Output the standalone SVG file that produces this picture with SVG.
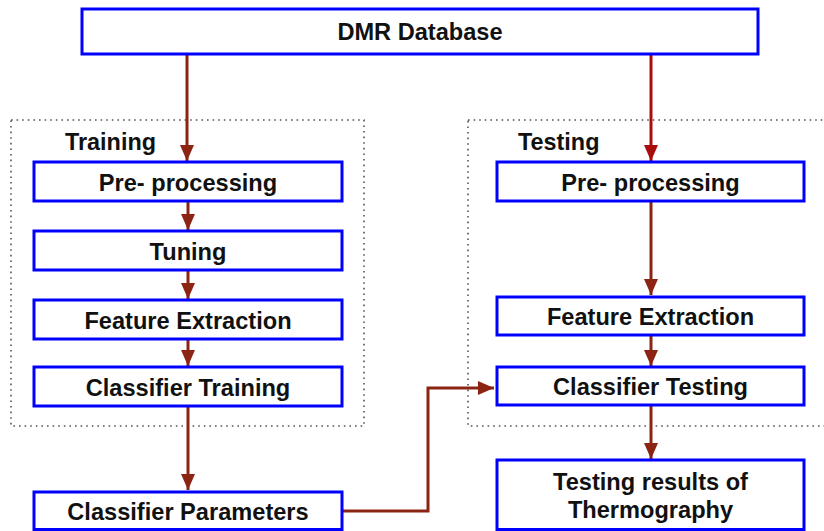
<svg xmlns="http://www.w3.org/2000/svg" width="824" height="531" viewBox="0 0 824 531">
  <style>
    .box { fill: #ffffff; stroke: #0000ff; stroke-width: 3; }
    .lbl { font-family: "Liberation Sans", Arial, sans-serif; font-weight: bold; font-size: 23.6px; fill: #111111; text-anchor: middle; }
    .title { font-family: "Liberation Sans", Arial, sans-serif; font-weight: bold; font-size: 23.4px; fill: #111111; }
    .group { fill: none; stroke: #555555; stroke-width: 1.6; stroke-dasharray: 1.6 4; }
    .flow { fill: none; stroke: #8b2412; stroke-width: 3; }
    .flow-red { fill: none; stroke: #a80c0c; stroke-width: 3; }
  </style>
  <defs>
    <marker id="head" viewBox="0 0 16 14" refX="16" refY="7" markerWidth="16" markerHeight="14" markerUnits="userSpaceOnUse" orient="auto">
      <path d="M0,0 L16,7 L0,14 Z" fill="#8b2412"/>
    </marker>
    <marker id="head-red" viewBox="0 0 16 14" refX="16" refY="7" markerWidth="16" markerHeight="14" markerUnits="userSpaceOnUse" orient="auto">
      <path d="M0,0 L16,7 L0,14 Z" fill="#a80c0c"/>
    </marker>
  </defs>

  <rect width="824" height="531" fill="#ffffff"/>

  <!-- dotted stage frames -->
  <g id="training-frame">
    <rect class="group" x="11" y="120" width="353" height="306"/>
    <text class="title" x="65" y="150">Training</text>
  </g>
  <g id="testing-frame">
    <rect class="group" x="468" y="120" width="370" height="306"/>
    <text class="title" x="518" y="150">Testing</text>
  </g>

  <!-- connectors -->
  <g id="connectors">
    <line class="flow" x1="187" y1="55" x2="187" y2="161" marker-end="url(#head)"/>
    <line class="flow-red" x1="651" y1="55" x2="651" y2="161" marker-end="url(#head-red)"/>
    <line class="flow" x1="188" y1="202" x2="188" y2="230" marker-end="url(#head)"/>
    <line class="flow" x1="188" y1="271" x2="188" y2="299" marker-end="url(#head)"/>
    <line class="flow" x1="188" y1="339" x2="188" y2="366" marker-end="url(#head)"/>
    <line class="flow" x1="188" y1="406" x2="188" y2="490" marker-end="url(#head)"/>
    <line class="flow" x1="651" y1="202" x2="651" y2="295" marker-end="url(#head)"/>
    <line class="flow" x1="651" y1="336" x2="651" y2="366" marker-end="url(#head)"/>
    <line class="flow" x1="651" y1="406" x2="651" y2="459" marker-end="url(#head)"/>
    <polyline class="flow" points="343,511 428,511 428,388 494,388" marker-end="url(#head)"/>
  </g>

  <!-- nodes -->
  <g id="dmr-database">
    <rect class="box" x="82" y="9" width="676" height="45"/>
    <text class="lbl" x="420" y="40">DMR Database</text>
  </g>

  <g id="train-preprocessing">
    <rect class="box" x="34" y="162" width="308" height="39"/>
    <text class="lbl" x="188" y="190.5">Pre- processing</text>
  </g>
  <g id="train-tuning">
    <rect class="box" x="34" y="231" width="308" height="39"/>
    <text class="lbl" x="188" y="259.5">Tuning</text>
  </g>
  <g id="train-feature-extraction">
    <rect class="box" x="34" y="300" width="308" height="39"/>
    <text class="lbl" x="188" y="328.5">Feature Extraction</text>
  </g>
  <g id="classifier-training">
    <rect class="box" x="34" y="367" width="308" height="39"/>
    <text class="lbl" x="188" y="395.5">Classifier Training</text>
  </g>
  <g id="classifier-parameters">
    <rect class="box" x="34" y="492" width="308" height="37.5"/>
    <text class="lbl" x="188" y="520">Classifier Parameters</text>
  </g>

  <g id="test-preprocessing">
    <rect class="box" x="497" y="162" width="307" height="39"/>
    <text class="lbl" x="650.5" y="190.5">Pre- processing</text>
  </g>
  <g id="test-feature-extraction">
    <rect class="box" x="497" y="297" width="307" height="38"/>
    <text class="lbl" x="650.5" y="324.5">Feature Extraction</text>
  </g>
  <g id="classifier-testing">
    <rect class="box" x="497" y="367" width="307" height="38"/>
    <text class="lbl" x="650.5" y="394.5">Classifier Testing</text>
  </g>
  <g id="testing-results">
    <rect class="box" x="497" y="460" width="307" height="69.5"/>
    <text class="lbl" x="650.5" y="490">Testing results of</text>
    <text class="lbl" x="650.5" y="518">Thermography</text>
  </g>
</svg>
